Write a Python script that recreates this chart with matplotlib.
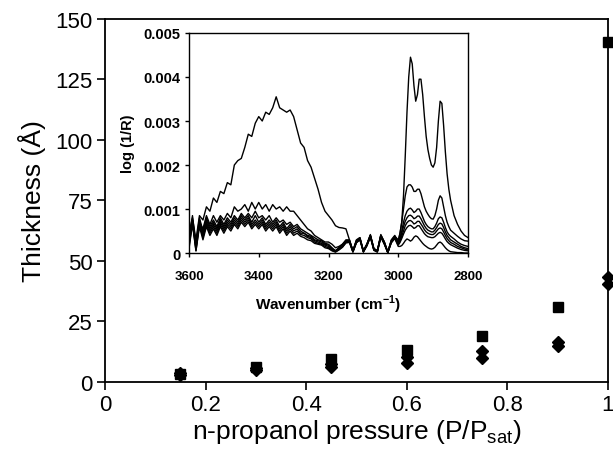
import matplotlib
matplotlib.use("Agg")
import matplotlib.pyplot as plt

plt.rcParams['font.family'] = ['Liberation Sans', 'DejaVu Sans']
plt.rcParams['mathtext.fontset'] = 'custom'
plt.rcParams['mathtext.rm'] = 'Liberation Sans'
plt.rcParams['mathtext.bf'] = 'Liberation Sans:bold'

# main plot: film thickness vs relative pressure
pressure = [0.15, 0.3, 0.45, 0.6, 0.75, 0.9, 1.0]
thick_sq = [3.2, 6.3, 9.5, 13.2, 19.0, 31.0, 140.5]
thick_d1 = [3.6, 5.6, 7.6, 10.2, 12.6, 16.6, 43.5]
thick_d2 = [3.0, 5.0, 6.3, 8.0, 10.0, 14.8, 40.5]

# inset: IR spectra, absorbance in units of 1e-3
wn = list(range(3600, 3000, -10)) + list(range(3000, 2845, -5)) + list(range(2840, 2799, -10))

spec7 = [0.45, 0.80, 0.30, 0.85, 0.75, 1.05, 0.95, 1.25, 1.15, 1.40,
         1.35, 1.60, 1.55, 2.00, 2.10, 2.15, 2.40, 2.70, 2.65, 2.95,
         3.10, 3.00, 3.20, 3.15, 3.30, 3.55, 3.30, 3.25, 3.20, 3.25,
         3.10, 2.80, 2.50, 2.40, 2.10, 1.95, 1.70, 1.45, 1.15, 0.95,
         0.85, 0.75, 0.62, 0.58, 0.57, 0.55, 0.30, 0.05, 0.30, 0.35,
         0.05, 0.20, 0.42, 0.10, 0.05, 0.42, 0.25, 0.02, 0.30, 0.40,
         0.25, 0.45, 0.70, 1.30, 2.20, 3.20, 4.00, 4.45, 4.30, 3.80,
         3.45, 3.60, 3.95, 3.95, 3.60, 3.10, 2.65, 2.35, 2.15, 2.00,
         1.95, 2.05, 2.40, 3.00, 3.45, 3.40, 2.90, 2.30, 1.80, 1.45,
         1.20, 0.85, 0.65, 0.50, 0.40, 0.35]
spec6 = [0.35, 0.85, 0.15, 0.70, 0.55, 0.85, 0.65, 0.85, 0.70, 0.85,
         0.75, 0.90, 0.80, 1.05, 0.95, 1.00, 1.10, 0.95, 1.15, 1.00,
         1.15, 1.00, 1.10, 0.95, 1.10, 1.00, 1.05, 0.95, 1.05, 0.95,
         0.95, 0.85, 0.75, 0.65, 0.55, 0.50, 0.40, 0.35, 0.30, 0.25,
         0.25, 0.20, 0.12, 0.15, 0.20, 0.30, 0.30, 0.05, 0.28, 0.35,
         0.05, 0.20, 0.40, 0.10, 0.05, 0.40, 0.25, 0.02, 0.28, 0.38,
         0.30, 0.45, 0.70, 1.00, 1.30, 1.50, 1.55, 1.55, 1.50, 1.40,
         1.40, 1.45, 1.45, 1.35, 1.20, 1.05, 0.95, 0.88, 0.82, 0.78,
         0.77, 0.85, 1.00, 1.20, 1.30, 1.25, 1.05, 0.85, 0.70, 0.60,
         0.52, 0.45, 0.38, 0.32, 0.28, 0.27]
spec5 = [0.30, 0.75, 0.20, 0.80, 0.50, 0.80, 0.60, 0.75, 0.60, 0.80,
         0.65, 0.80, 0.70, 0.85, 0.75, 0.90, 0.80, 0.90, 0.80, 0.95,
         0.80, 0.85, 0.75, 0.85, 0.70, 0.80, 0.70, 0.75, 0.65, 0.70,
         0.60, 0.65, 0.55, 0.50, 0.45, 0.40, 0.35, 0.30, 0.28, 0.22,
         0.20, 0.12, 0.05, 0.12, 0.20, 0.28, 0.28, 0.05, 0.28, 0.33,
         0.05, 0.20, 0.40, 0.10, 0.05, 0.40, 0.25, 0.02, 0.28, 0.38,
         0.25, 0.35, 0.50, 0.70, 0.85, 0.95, 1.00, 1.02, 0.98, 0.92,
         0.95, 1.00, 1.00, 0.92, 0.82, 0.72, 0.65, 0.60, 0.57, 0.55,
         0.55, 0.60, 0.68, 0.78, 0.82, 0.80, 0.70, 0.58, 0.48, 0.42,
         0.38, 0.32, 0.25, 0.20, 0.17, 0.15]
spec4 = [0.25, 0.70, 0.15, 0.75, 0.45, 0.75, 0.55, 0.70, 0.55, 0.75,
         0.60, 0.75, 0.65, 0.80, 0.70, 0.85, 0.75, 0.85, 0.70, 0.85,
         0.70, 0.80, 0.65, 0.75, 0.65, 0.75, 0.60, 0.70, 0.55, 0.65,
         0.55, 0.60, 0.50, 0.45, 0.40, 0.38, 0.30, 0.28, 0.25, 0.20,
         0.18, 0.10, 0.05, 0.12, 0.18, 0.25, 0.28, 0.04, 0.26, 0.33,
         0.04, 0.18, 0.40, 0.08, 0.04, 0.40, 0.22, 0.02, 0.26, 0.36,
         0.22, 0.30, 0.45, 0.60, 0.72, 0.80, 0.85, 0.86, 0.83, 0.78,
         0.80, 0.84, 0.84, 0.78, 0.70, 0.62, 0.56, 0.52, 0.50, 0.48,
         0.48, 0.52, 0.58, 0.65, 0.68, 0.66, 0.58, 0.48, 0.40, 0.35,
         0.30, 0.25, 0.20, 0.15, 0.12, 0.10]
spec3 = [0.20, 0.75, 0.10, 0.70, 0.40, 0.70, 0.50, 0.65, 0.50, 0.70,
         0.55, 0.70, 0.60, 0.75, 0.65, 0.80, 0.70, 0.80, 0.65, 0.75,
         0.65, 0.75, 0.60, 0.70, 0.60, 0.70, 0.55, 0.65, 0.50, 0.60,
         0.50, 0.55, 0.45, 0.45, 0.38, 0.35, 0.28, 0.25, 0.22, 0.18,
         0.15, 0.08, 0.04, 0.10, 0.15, 0.25, 0.26, 0.03, 0.25, 0.32,
         0.03, 0.18, 0.38, 0.08, 0.03, 0.38, 0.22, 0.01, 0.25, 0.35,
         0.20, 0.27, 0.38, 0.50, 0.62, 0.69, 0.73, 0.74, 0.71, 0.66,
         0.68, 0.72, 0.72, 0.66, 0.60, 0.53, 0.48, 0.45, 0.43, 0.42,
         0.42, 0.45, 0.50, 0.55, 0.57, 0.55, 0.48, 0.40, 0.33, 0.28,
         0.24, 0.20, 0.15, 0.12, 0.09, 0.07]
spec2 = [0.15, 0.70, 0.05, 0.65, 0.35, 0.65, 0.45, 0.60, 0.45, 0.65,
         0.50, 0.65, 0.55, 0.70, 0.60, 0.75, 0.65, 0.75, 0.60, 0.70,
         0.60, 0.70, 0.55, 0.65, 0.55, 0.65, 0.50, 0.60, 0.45, 0.55,
         0.45, 0.50, 0.42, 0.40, 0.35, 0.32, 0.25, 0.22, 0.20, 0.15,
         0.12, 0.06, 0.03, 0.08, 0.14, 0.24, 0.25, 0.03, 0.24, 0.31,
         0.03, 0.17, 0.37, 0.07, 0.03, 0.37, 0.21, 0.01, 0.24, 0.34,
         0.18, 0.24, 0.33, 0.43, 0.52, 0.58, 0.62, 0.63, 0.60, 0.56,
         0.58, 0.62, 0.62, 0.56, 0.50, 0.44, 0.40, 0.37, 0.36, 0.35,
         0.35, 0.37, 0.41, 0.45, 0.47, 0.45, 0.39, 0.32, 0.26, 0.22,
         0.19, 0.15, 0.11, 0.08, 0.06, 0.05]
spec1 = [0.10, 0.65, 0.05, 0.60, 0.30, 0.60, 0.40, 0.55, 0.40, 0.60,
         0.45, 0.60, 0.50, 0.65, 0.55, 0.70, 0.60, 0.70, 0.55, 0.65,
         0.55, 0.65, 0.50, 0.60, 0.50, 0.60, 0.45, 0.55, 0.40, 0.50,
         0.40, 0.45, 0.38, 0.35, 0.30, 0.28, 0.22, 0.20, 0.18, 0.12,
         0.10, 0.05, 0.02, 0.07, 0.13, 0.23, 0.24, 0.02, 0.23, 0.30,
         0.02, 0.16, 0.36, 0.06, 0.02, 0.36, 0.20, 0.01, 0.23, 0.33,
         0.15, 0.15, 0.17, 0.22, 0.28, 0.32, 0.30, 0.27, 0.30, 0.36,
         0.39, 0.37, 0.32, 0.27, 0.22, 0.18, 0.15, 0.12, 0.10, 0.09,
         0.10, 0.13, 0.18, 0.23, 0.25, 0.22, 0.17, 0.12, 0.08, 0.05,
         0.03, 0.02, 0.01, 0.01, 0.00, 0.00]
spectra = [spec1, spec2, spec3, spec4, spec5, spec6, spec7]

fig = plt.figure(figsize=(6.13, 4.52), dpi=100)
ax = fig.add_axes([0.1713, 0.1527, 0.8205, 0.8031])

ax.plot(pressure, thick_d1, ls='none', marker='D', ms=6.5, color='black', clip_on=False)
ax.plot(pressure, thick_d2, ls='none', marker='D', ms=6.5, color='black', clip_on=False)
ax.plot(pressure, thick_sq, ls='none', marker='s', ms=7.5, color='black', clip_on=False)

ax.set_xlim(0, 1)
ax.set_ylim(0, 150)
ax.set_xticks([0, 0.2, 0.4, 0.6, 0.8, 1.0])
ax.set_xticklabels(['0', '0.2', '0.4', '0.6', '0.8', '1'])
ax.set_yticks([0, 25, 50, 75, 100, 125, 150])
ax.tick_params(direction='out', length=6, width=1.2, labelsize=16, pad=3)
for s in ax.spines.values():
    s.set_linewidth(1.3)
ax.set_xlabel('n-propanol pressure (P/P$_{\\mathrm{sat}}$)', fontsize=19, labelpad=1)
ax.set_ylabel('Thickness (Å)', fontsize=19, labelpad=7)

# inset
ins = fig.add_axes([0.3083, 0.438, 0.4552, 0.4868])
for sp in spectra:
    ins.plot(wn, [v * 1e-3 for v in sp], color='black', lw=1.0)
ins.set_xlim(3600, 2800)
ins.set_ylim(0, 0.005)
ins.set_xticks([3600, 3400, 3200, 3000, 2800])
ins.set_yticks([0, 0.001, 0.002, 0.003, 0.004, 0.005])
ins.set_yticklabels(['0', '0.001', '0.002', '0.003', '0.004', '0.005'])
ins.tick_params(direction='out', length=3, width=1, pad=3)
ins.tick_params(axis='x', labelsize=9.5, pad=9)
ins.tick_params(axis='y', labelsize=10.5)
for lab in ins.get_xticklabels() + ins.get_yticklabels():
    lab.set_fontweight('bold')
for s in ins.spines.values():
    s.set_linewidth(1.0)
ins.set_xlabel('Wavenumber (cm$^{\\mathbf{-1}}$)', fontsize=11, fontweight='bold', labelpad=8)
ins.set_ylabel('log (1/R)', fontsize=10.5, fontweight='bold', labelpad=6)

fig.savefig('out.png', dpi=100)
